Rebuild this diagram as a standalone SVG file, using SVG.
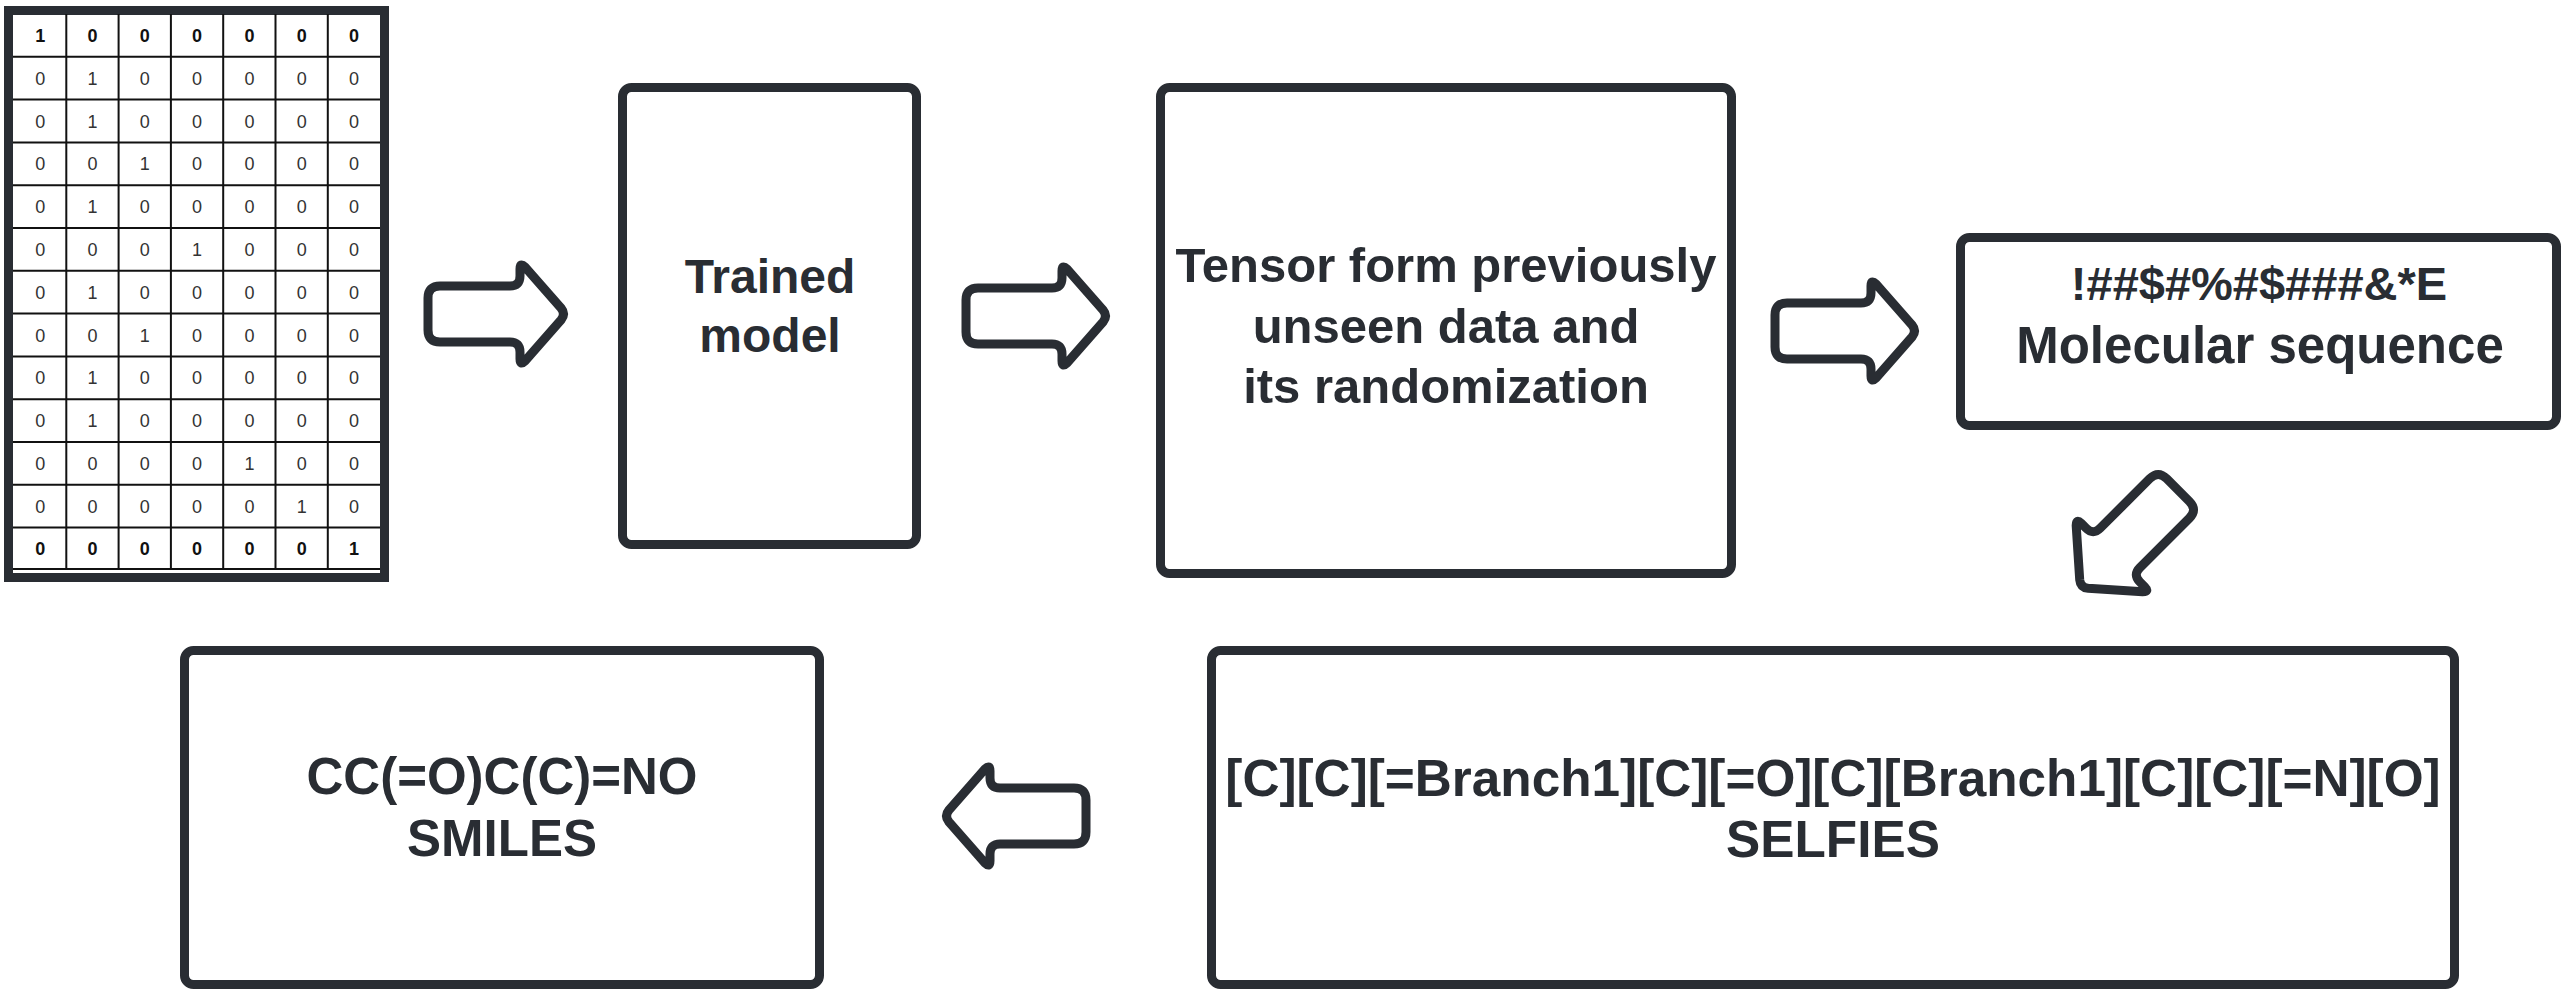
<svg xmlns="http://www.w3.org/2000/svg" width="2569" height="1002" viewBox="0 0 2569 1002">
<style>
.box{fill:#fff;stroke:#292d33;stroke-width:9}
.arr{fill:#fff;stroke:#292d33;stroke-width:9;stroke-linejoin:round}
.lbl{font-family:"Liberation Sans",Arial,sans-serif;font-weight:bold;fill:#292d33;text-anchor:middle}
.grid{stroke:#111;stroke-width:2}
.d{font-family:"Liberation Sans",Arial,sans-serif;font-size:18px;fill:#333;text-anchor:middle}
.b{font-weight:bold;fill:#111}
</style>
<defs>
<path id="arrA" d="M 0,-16 Q 0,-28 12,-28 L 82,-28 Q 92,-28 92,-38 L 92,-45 Q 92,-52 97,-47 L 133,-6 Q 138,0 133,6 L 97,47 Q 92,52 92,45 L 92,38 Q 92,28 82,28 L 12,28 Q 0,28 0,16 Z"/>
<path id="arrB" d="M 0,-16 Q 0,-28 12,-28 L 86,-28 Q 96,-28 96,-38 L 96,-45 Q 96,-52 101,-47 L 137,-6 Q 142,0 137,6 L 101,47 Q 96,52 96,45 L 96,38 Q 96,28 86,28 L 12,28 Q 0,28 0,16 Z"/>
</defs>
<rect width="2569" height="1002" fill="#fff"/>

<g id="matrix">
<rect x="8.5" y="10.5" width="376" height="567" fill="#fff" stroke="#292d33" stroke-width="9"/>
<g class="grid">
<line x1="66.3" y1="14" x2="66.3" y2="570"/><line x1="118.6" y1="14" x2="118.6" y2="570"/><line x1="170.9" y1="14" x2="170.9" y2="570"/><line x1="223.2" y1="14" x2="223.2" y2="570"/><line x1="275.5" y1="14" x2="275.5" y2="570"/><line x1="327.8" y1="14" x2="327.8" y2="570"/>
<line x1="13" y1="56.8" x2="380" y2="56.8"/><line x1="13" y1="99.6" x2="380" y2="99.6"/><line x1="13" y1="142.4" x2="380" y2="142.4"/><line x1="13" y1="185.2" x2="380" y2="185.2"/><line x1="13" y1="228" x2="380" y2="228"/><line x1="13" y1="270.8" x2="380" y2="270.8"/><line x1="13" y1="313.6" x2="380" y2="313.6"/><line x1="13" y1="356.4" x2="380" y2="356.4"/><line x1="13" y1="399.2" x2="380" y2="399.2"/><line x1="13" y1="442" x2="380" y2="442"/><line x1="13" y1="484.8" x2="380" y2="484.8"/><line x1="13" y1="527.6" x2="380" y2="527.6"/><line x1="13" y1="569" x2="380" y2="569"/>
</g>
<g class="d">
<text class="b" x="40.2" y="41.9">1</text><text class="b" x="92.5" y="41.9">0</text><text class="b" x="144.8" y="41.9">0</text><text class="b" x="197.1" y="41.9">0</text><text class="b" x="249.4" y="41.9">0</text><text class="b" x="301.7" y="41.9">0</text><text class="b" x="354" y="41.9">0</text>
<text x="40.2" y="84.7">0</text><text x="92.5" y="84.7">1</text><text x="144.8" y="84.7">0</text><text x="197.1" y="84.7">0</text><text x="249.4" y="84.7">0</text><text x="301.7" y="84.7">0</text><text x="354" y="84.7">0</text>
<text x="40.2" y="127.5">0</text><text x="92.5" y="127.5">1</text><text x="144.8" y="127.5">0</text><text x="197.1" y="127.5">0</text><text x="249.4" y="127.5">0</text><text x="301.7" y="127.5">0</text><text x="354" y="127.5">0</text>
<text x="40.2" y="170.3">0</text><text x="92.5" y="170.3">0</text><text x="144.8" y="170.3">1</text><text x="197.1" y="170.3">0</text><text x="249.4" y="170.3">0</text><text x="301.7" y="170.3">0</text><text x="354" y="170.3">0</text>
<text x="40.2" y="213.1">0</text><text x="92.5" y="213.1">1</text><text x="144.8" y="213.1">0</text><text x="197.1" y="213.1">0</text><text x="249.4" y="213.1">0</text><text x="301.7" y="213.1">0</text><text x="354" y="213.1">0</text>
<text x="40.2" y="255.9">0</text><text x="92.5" y="255.9">0</text><text x="144.8" y="255.9">0</text><text x="197.1" y="255.9">1</text><text x="249.4" y="255.9">0</text><text x="301.7" y="255.9">0</text><text x="354" y="255.9">0</text>
<text x="40.2" y="298.7">0</text><text x="92.5" y="298.7">1</text><text x="144.8" y="298.7">0</text><text x="197.1" y="298.7">0</text><text x="249.4" y="298.7">0</text><text x="301.7" y="298.7">0</text><text x="354" y="298.7">0</text>
<text x="40.2" y="341.5">0</text><text x="92.5" y="341.5">0</text><text x="144.8" y="341.5">1</text><text x="197.1" y="341.5">0</text><text x="249.4" y="341.5">0</text><text x="301.7" y="341.5">0</text><text x="354" y="341.5">0</text>
<text x="40.2" y="384.3">0</text><text x="92.5" y="384.3">1</text><text x="144.8" y="384.3">0</text><text x="197.1" y="384.3">0</text><text x="249.4" y="384.3">0</text><text x="301.7" y="384.3">0</text><text x="354" y="384.3">0</text>
<text x="40.2" y="427.1">0</text><text x="92.5" y="427.1">1</text><text x="144.8" y="427.1">0</text><text x="197.1" y="427.1">0</text><text x="249.4" y="427.1">0</text><text x="301.7" y="427.1">0</text><text x="354" y="427.1">0</text>
<text x="40.2" y="469.9">0</text><text x="92.5" y="469.9">0</text><text x="144.8" y="469.9">0</text><text x="197.1" y="469.9">0</text><text x="249.4" y="469.9">1</text><text x="301.7" y="469.9">0</text><text x="354" y="469.9">0</text>
<text x="40.2" y="512.7">0</text><text x="92.5" y="512.7">0</text><text x="144.8" y="512.7">0</text><text x="197.1" y="512.7">0</text><text x="249.4" y="512.7">0</text><text x="301.7" y="512.7">1</text><text x="354" y="512.7">0</text>
<text class="b" x="40.2" y="555">0</text><text class="b" x="92.5" y="555">0</text><text class="b" x="144.8" y="555">0</text><text class="b" x="197.1" y="555">0</text><text class="b" x="249.4" y="555">0</text><text class="b" x="301.7" y="555">0</text><text class="b" x="354" y="555">1</text>
</g>
</g>

<g id="trained">
<rect class="box" x="622.5" y="87.5" width="294" height="457" rx="9"/>
<text class="lbl" font-size="48" x="770" y="293">Trained</text>
<text class="lbl" font-size="48" x="770" y="352">model</text>
</g>

<g id="tensor">
<rect class="box" x="1160.5" y="87.5" width="571" height="486" rx="9"/>
<text class="lbl" font-size="49" x="1446" y="282">Tensor form previously</text>
<text class="lbl" font-size="49" x="1446" y="343">unseen data and</text>
<text class="lbl" font-size="49" x="1446" y="403">its randomization</text>
</g>

<g id="molecular">
<rect class="box" x="1960.5" y="237.5" width="596" height="188" rx="9"/>
<text class="lbl" font-size="47" x="2259" y="300">!##$#%#$###&amp;*E</text>
<text class="lbl" font-size="51" x="2260" y="363">Molecular sequence</text>
</g>

<g id="selfies">
<rect class="box" x="1211.5" y="650.5" width="1243" height="334" rx="9"/>
<text class="lbl" font-size="51.3" x="1833" y="796">[C][C][=Branch1][C][=O][C][Branch1][C][C][=N][O]</text>
<text class="lbl" font-size="51.3" x="1833" y="857">SELFIES</text>
</g>

<g id="smiles">
<rect class="box" x="184.5" y="650.5" width="635" height="334" rx="9"/>
<text class="lbl" font-size="51" x="502" y="794">CC(=O)C(C)=NO</text>
<text class="lbl" font-size="51" x="502" y="856">SMILES</text>
</g>

<g id="connectors">
<use href="#arrA" class="arr" transform="translate(428,314)"/>
<use href="#arrB" class="arr" transform="translate(966,316)"/>
<use href="#arrB" class="arr" transform="translate(1775,331)"/>
<use href="#arrA" class="arr" transform="translate(2178,490) rotate(135)"/>
<use href="#arrB" class="arr" transform="translate(1086,816) rotate(180)"/>
</g>
</svg>
